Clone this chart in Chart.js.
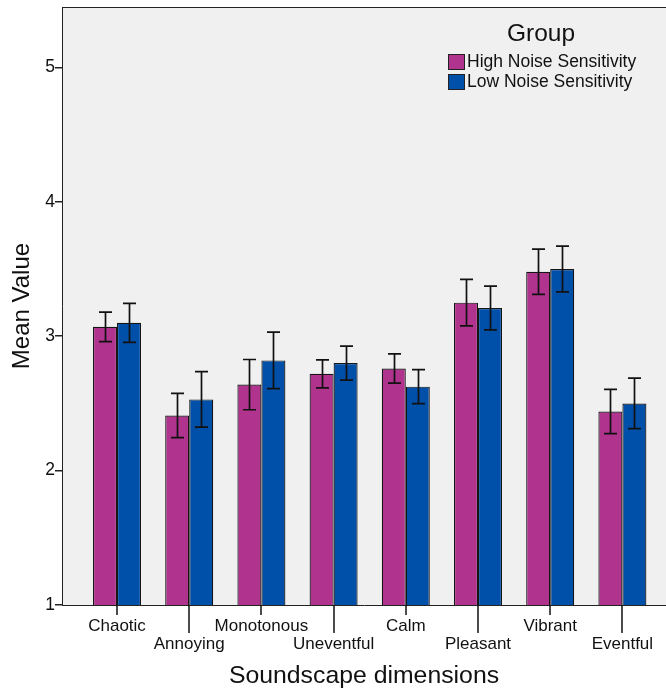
<!DOCTYPE html>
<html>
<head>
<meta charset="utf-8">
<script src="https://cdn.jsdelivr.net/npm/chart.js@4/dist/chart.umd.min.js"></script>
<style>
  html, body { margin: 0; padding: 0; background: #ffffff; overflow: hidden; }
  #wrap { width: 666px; height: 691px; position: relative; }
</style>
</head>
<body>
<div id="wrap"><canvas id="chart"></canvas></div>
<script>
// Soundscape ratings by noise-sensitivity group (means with error half-widths)
const categories = ['Chaotic', 'Annoying', 'Monotonous', 'Uneventful', 'Calm', 'Pleasant', 'Vibrant', 'Eventful'];
const seriesNames = ['High Noise Sensitivity', 'Low Noise Sensitivity'];
const highMeans = [3.07, 2.41, 2.64, 2.72, 2.76, 3.25, 3.48, 2.44];
const highErr   = [0.11, 0.165, 0.187, 0.104, 0.109, 0.173, 0.168, 0.164];
const lowMeans  = [3.10, 2.53, 2.82, 2.80, 2.625, 3.21, 3.50, 2.50];
const lowErr    = [0.145, 0.207, 0.21, 0.126, 0.126, 0.163, 0.17, 0.188];
const yTicks = [1, 2, 3, 4, 5];

const FONT = '"Liberation Sans", Arial, Helvetica, sans-serif';
const TEXT = '#111111';
const colors = ['#b0338e', '#0050aa'];
const errors = [highErr, lowErr];

Chart.defaults.font.family = FONT;
Chart.defaults.color = TEXT;

// Panel background and top frame line
const panelPlugin = {
  id: 'panel',
  beforeDraw(chart) {
    const { ctx, chartArea: a } = chart;
    ctx.save();
    ctx.fillStyle = '#f0f0f0';
    ctx.fillRect(a.left, a.top, a.right - a.left, a.bottom - a.top);
    ctx.strokeStyle = '#222222';
    ctx.lineWidth = 1;
    ctx.beginPath();
    ctx.moveTo(a.left, a.top + 0.5);
    ctx.lineTo(a.right, a.top + 0.5);
    ctx.stroke();
    ctx.restore();
  }
};

// Staggered category tick marks (short for first row, long for second row)
const catTickPlugin = {
  id: 'catTicks',
  afterDraw(chart) {
    const { ctx, chartArea: a } = chart;
    const xs = chart.scales.x;
    ctx.save();
    ctx.strokeStyle = '#111111';
    ctx.lineWidth = 1.5;
    categories.forEach((_, i) => {
      const x = Math.round(xs.getPixelForValue(i));
      const len = i % 2 ? 28 : 10;
      ctx.beginPath();
      ctx.moveTo(x, a.bottom);
      ctx.lineTo(x, a.bottom + len);
      ctx.stroke();
    });
    ctx.restore();
  }
};

// Error bars with caps
const errorBarPlugin = {
  id: 'errorBars',
  afterDatasetsDraw(chart) {
    const { ctx } = chart;
    const ys = chart.scales.y;
    ctx.save();
    ctx.strokeStyle = '#111111';
    ctx.lineWidth = 1.7;
    chart.data.datasets.forEach((ds, d) => {
      const meta = chart.getDatasetMeta(d);
      meta.data.forEach((bar, i) => {
        const v = ds.data[i].y;
        const e = errors[d][i];
        const yTop = ys.getPixelForValue(v + e);
        const yBot = ys.getPixelForValue(v - e);
        const x = Math.round(bar.x) + 0.5;
        const cap = 6.5;
        ctx.beginPath();
        ctx.moveTo(x, yTop); ctx.lineTo(x, yBot);
        ctx.moveTo(x - cap, yTop); ctx.lineTo(x + cap, yTop);
        ctx.moveTo(x - cap, yBot); ctx.lineTo(x + cap, yBot);
        ctx.stroke();
      });
    });
    ctx.restore();
  }
};

// Legend box with group title in the upper right of the panel
const groupLegendPlugin = {
  id: 'groupLegend',
  afterDatasetsDraw(chart) {
    const { ctx } = chart;
    ctx.save();
    ctx.fillStyle = TEXT;
    ctx.textBaseline = 'middle';
    ctx.textAlign = 'center';
    ctx.font = '24.5px ' + FONT;
    ctx.fillText('Group', 541, 34);
    ctx.textAlign = 'left';
    ctx.font = '17.5px ' + FONT;
    chart.data.datasets.forEach((ds, d) => {
      const cy = 62 + d * 20;
      ctx.fillStyle = ds.backgroundColor;
      ctx.fillRect(448, cy - 8, 17, 16);
      ctx.strokeStyle = '#222222';
      ctx.lineWidth = 1;
      ctx.strokeRect(448.5, cy - 7.5, 16, 15);
      ctx.fillStyle = TEXT;
      ctx.fillText(ds.label, 467, cy);
    });
    ctx.restore();
  }
};

const datasets = [highMeans, lowMeans].map((vals, d) => ({
  label: seriesNames[d],
  data: vals.map((v, i) => ({ x: i, y: v })),
  backgroundColor: colors[d],
  borderColor: '#151515',
  borderWidth: 1.2,
  categoryPercentage: 0.665,
  barPercentage: 1.0
}));

new Chart(document.getElementById('chart'), {
  type: 'bar',
  data: { datasets },
  plugins: [panelPlugin, catTickPlugin, errorBarPlugin, groupLegendPlugin],
  options: {
    responsive: true,
    maintainAspectRatio: false,
    animation: false,
    devicePixelRatio: 1,
    layout: { padding: { top: 7, left: 0, right: 0, bottom: 0 } },
    plugins: {
      legend: { display: false },
      tooltip: { enabled: false }
    },
    scales: {
      x: {
        type: 'linear',
        min: -0.762,
        max: 7.604,
        offset: false,
        afterBuildTicks(scale) {
          scale.ticks = categories.map((_, i) => ({ value: i }));
        },
        afterFit(scale) {
          scale.height = 86;
          scale.paddingLeft = 0;
          scale.paddingRight = 0;
        },
        grid: { display: false },
        border: { display: true, color: '#222222', width: 1 },
        ticks: {
          autoSkip: false,
          maxRotation: 0,
          minRotation: 0,
          padding: 4,
          color: TEXT,
          font: { size: 17, lineHeight: 1.06 },
          callback(value, index) {
            const lab = categories[index];
            return index % 2 ? ['', lab] : lab;
          }
        },
        title: {
          display: true,
          text: 'Soundscape dimensions',
          color: TEXT,
          font: { size: 24.8 },
          padding: { top: 0, bottom: 0 }
        }
      },
      y: {
        type: 'linear',
        min: 1,
        max: 5.45,
        afterBuildTicks(scale) {
          scale.ticks = yTicks.map(v => ({ value: v }));
        },
        afterFit(scale) {
          scale.width = 62;
          scale.paddingTop = 0;
          scale.paddingBottom = 0;
        },
        grid: { drawOnChartArea: false, tickLength: 7, color: '#222222', lineWidth: 1.5 },
        border: { display: true, color: '#222222', width: 1 },
        ticks: {
          padding: 0,
          color: TEXT,
          font: { size: 17.5 },
          callback: v => String(v)
        },
        title: {
          display: true,
          text: 'Mean Value',
          color: TEXT,
          font: { size: 24 },
          padding: { top: 8, bottom: 0 }
        }
      }
    }
  }
});
</script>
</body>
</html>
